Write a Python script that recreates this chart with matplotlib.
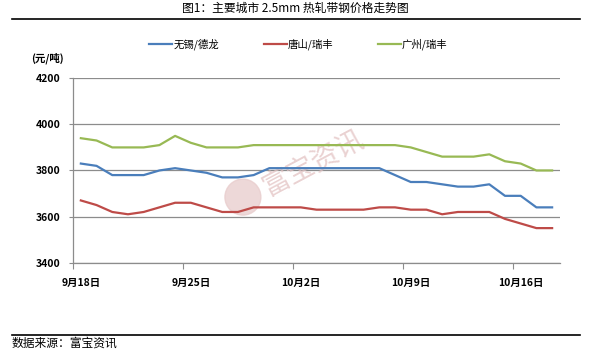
import matplotlib.pyplot as plt
from matplotlib.patches import Ellipse
import numpy as np

plt.rcParams['font.family'] = ['Noto Sans CJK SC', 'DejaVu Sans']

# 数据：9月18日 - 10月18日 (元/吨)
dates = ['9月18日', '9月25日', '10月2日', '10月9日', '10月16日']
wuxi = [3830, 3820, 3780, 3780, 3780, 3800, 3810, 3800, 3790, 3770,
        3770, 3780, 3810, 3810, 3810, 3810, 3810, 3810, 3810, 3810,
        3780, 3750, 3750, 3740, 3730, 3730, 3740, 3690, 3690, 3640, 3640]
tangshan = [3670, 3650, 3620, 3610, 3620, 3640, 3660, 3660, 3640, 3620,
            3620, 3640, 3640, 3640, 3640, 3630, 3630, 3630, 3630, 3640,
            3640, 3630, 3630, 3610, 3620, 3620, 3620, 3590, 3570, 3550, 3550]
guangzhou = [3940, 3930, 3900, 3900, 3900, 3910, 3950, 3920, 3900, 3900,
             3900, 3910, 3910, 3910, 3910, 3910, 3910, 3910, 3910, 3910,
             3910, 3900, 3880, 3860, 3860, 3860, 3870, 3840, 3830, 3800, 3800]
names = ['无锡/德龙', '唐山/瑞丰', '广州/瑞丰']
colors = ['#4A7EBB', '#BE4B48', '#98B954']

fig = plt.figure(figsize=(5.91, 3.52), dpi=100)
ax = fig.add_axes([0.1235, 0.2537, 0.824, 0.524])

x = np.arange(len(wuxi))
for ys, nm, c in zip([wuxi, tangshan, guangzhou], names, colors):
    ax.plot(x, ys, color=c, lw=1.6, label=nm, zorder=3)

ax.set_xlim(-0.5, len(wuxi) - 0.5)
ax.set_ylim(3400, 4200)
ax.set_yticks([3400, 3600, 3800, 4000, 4200])
ax.grid(axis='y', color='#8c8c8c', lw=0.9)
ax.set_axisbelow(True)

ax.set_xticks(np.arange(-0.5, len(wuxi), 7))
ax.set_xticklabels([])
ax.set_xticks(np.arange(0, len(wuxi), 7), minor=True)
ax.set_xticklabels(dates, minor=True, fontsize=7.5, fontweight='bold')
ax.tick_params(axis='x', which='minor', length=0, pad=11)
ax.tick_params(axis='x', which='major', length=4, color='#8c8c8c')
ax.tick_params(axis='y', length=3, color='#8c8c8c', labelsize=7.5, pad=6)
for lb in ax.get_yticklabels():
    lb.set_fontweight('bold')

for s in ['top', 'right']:
    ax.spines[s].set_visible(False)
for s in ['left', 'bottom']:
    ax.spines[s].set_color('#8c8c8c')
    ax.spines[s].set_linewidth(0.9)

# 水印 (画在折线下面)
ax.text(0.531, 0.537, '富宝资讯', transform=fig.transFigure, fontsize=20,
        color='#e3c3c3', alpha=0.75, rotation=28, ha='center', va='center', zorder=1)
ax.add_artist(Ellipse((0.411, 0.44), 36 / 591, 36 / 352, transform=fig.transFigure,
                      color='#e8cccc', alpha=0.75, zorder=1))

fig.text(0.5, 0.977, '图1：主要城市 2.5mm 热轧带钢价格走势图', ha='center', va='center', fontsize=8.5)
fig.add_artist(plt.Line2D([0.02, 0.982], [0.946, 0.946], color='black', lw=1.2))
fig.add_artist(plt.Line2D([0.02, 0.982], [0.048, 0.048], color='black', lw=1.2))
fig.text(0.02, 0.024, '数据来源：富宝资讯', ha='left', va='center', fontsize=8.5)
fig.text(0.052, 0.835, '(元/吨)', ha='left', va='center', fontsize=7.5, fontweight='bold')

fig.legend(loc='center', bbox_to_anchor=(0.505, 0.875), ncol=3, frameon=False,
           fontsize=7.5, handlelength=2.2, columnspacing=4.3, handletextpad=0.1)

fig.savefig('out.png', dpi=100)
